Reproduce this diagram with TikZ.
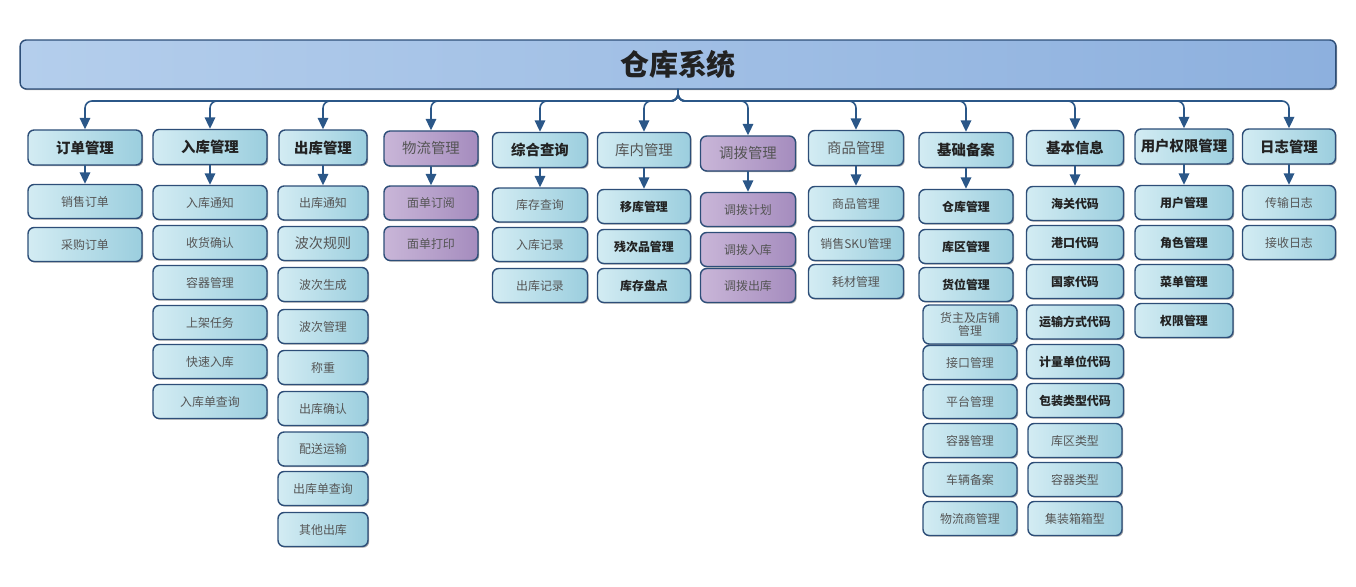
\documentclass[tikz,border=0pt]{standalone}
\usepackage{fontspec}
\setmainfont{Noto Sans CJK SC}
\usetikzlibrary{arrows.meta,shadows}
\definecolor{edge}{HTML}{2D4E78}
\definecolor{wire}{HTML}{2B5788}
\definecolor{kidL}{HTML}{D3ECF3}
\definecolor{kidR}{HTML}{9BCEDE}
\definecolor{purL}{HTML}{C9B6D8}
\definecolor{purR}{HTML}{A58CBE}
\definecolor{rootL}{HTML}{B4CEEC}
\definecolor{rootR}{HTML}{8DB0DE}
\definecolor{ink}{HTML}{222222}
\definecolor{soft}{HTML}{555555}
\begin{document}
\begin{tikzpicture}[x=0.02cm, y=-0.02cm, line join=round, line cap=round,
	box/.style={draw=edge, line width=0.8pt, rounded corners=3.5pt, minimum height=6.8mm, inner sep=1pt, align=center,
		left color=kidL, right color=kidR,
		drop shadow={shadow xshift=0.7pt, shadow yshift=-0.7pt, fill=black, opacity=0.35}},
	kid/.style={box, text=soft, font=\fontsize{6.8}{7.6}\selectfont},
	kidb/.style={box, text=ink, font=\fontsize{6.8}{8}\selectfont\bfseries},
	kidl/.style={box, text=soft, font=\fontsize{8}{9}\selectfont},
	kidt/.style={kid, minimum height=7.8mm},
	pkid/.style={kid, left color=purL, right color=purR},
	top/.style={box, minimum height=7mm, text=soft, font=\fontsize{8.2}{9}\selectfont},
	topb/.style={box, minimum height=7mm, text=ink, font=\fontsize{8.2}{9}\selectfont\bfseries},
	ptop/.style={top, left color=purL, right color=purR},
	arr/.style={draw=wire, line width=0.9pt, -{Triangle[width=6pt,length=6.5pt]}}]
	\useasboundingbox (0,0) rectangle (1356,587);
	\node[box, left color=rootL, right color=rootR, minimum width=1316*0.2mm, minimum height=49*0.2mm, text=ink,
		font=\fontsize{16.5}{18}\selectfont\bfseries] (root) at (678,64.5) {仓库系统};
	\coordinate (bus) at (678,101);
	\foreach \n/\x/\y/\w/\t/\s in {t1/85/147.5/114/订单管理/topb, t2/210/147/114/入库管理/topb, t3/323/147.5/88/出库管理/topb,
		t4/431/148.5/94/物流管理/ptop, t5/540/150/95/综合查询/topb, t6/644/150/93/库内管理/top, t7/748/153.5/95/调拨管理/ptop,
		t8/856/148/95/商品管理/top, t9/966/150/94/基础备案/topb, t10/1075/148/97/基本信息/topb,
		t11/1184/146.5/98/用户权限管理/topb, t12/1289/146.5/93/日志管理/topb}
		\node[\s, minimum width=\w*0.2mm] (\n) at (\x,\y) {\t};
	\foreach \n/\x/\y/\w/\t/\s in {k1-1/85/201.5/114/销售订单/kid, k1-2/85/244.5/114/采购订单/kid,
		k2-1/210/202.5/114/入库通知/kid, k2-2/210/242.5/114/收货确认/kid, k2-3/210/282.5/114/容器管理/kid,
		k2-4/210/322.5/114/上架任务/kid, k2-5/210/361.5/114/快速入库/kid, k2-6/210/401.5/114/入库单查询/kid,
		k3-1/323/203/90/出库通知/kid, k3-2/323/243.5/90/波次规则/kidl, k3-3/323/284.5/90/波次生成/kid,
		k3-4/323/326.5/90/波次管理/kid, k3-5/323/367.5/90/称重/kid, k3-6/323/408.5/90/出库确认/kid,
		k3-7/323/449/90/配送运输/kid, k3-8/323/488.5/90/出库单查询/kid, k3-9/323/529.5/90/其他出库/kid,
		k4-1/431/203/94/面单订阅/pkid, k4-2/431/243.5/94/面单打印/pkid,
		k5-1/540/205/95/库存查询/kid, k5-2/540/244.5/95/入库记录/kid, k5-3/540/285.5/95/出库记录/kid,
		k6-1/644/206.5/93/移库管理/kidb, k6-2/644/246.5/93/残次品管理/kidb, k6-3/644/285.5/93/库存盘点/kidb,
		k7-1/748/209.5/95/调拨计划/pkid, k7-2/748/249.5/95/调拨入库/pkid, k7-3/748/285.5/95/调拨出库/pkid,
		k8-1/856/203.5/95/商品管理/kid, k8-2/856/243.5/95/销售SKU管理/kid, k8-3/856/281.5/95/耗材管理/kid,
		k9-1/966/206.5/94/仓库管理/kidb, k9-2/966/246.5/94/库区管理/kidb, k9-3/966/284.5/94/货位管理/kidb,
		k9-4/970/324.5/94/货主及店铺\\管理/kidt, k9-5/970/362.5/94/接口管理/kid, k9-6/970/401.5/94/平台管理/kid,
		k9-7/970/440.5/94/容器管理/kid, k9-8/970/479.5/94/车辆备案/kid, k9-9/970/518.5/94/物流商管理/kid,
		k10-1/1075/203.5/97/海关代码/kidb, k10-2/1075/242.5/97/港口代码/kidb, k10-3/1075/281.5/97/国家代码/kidb,
		k10-4/1075/322/97/运输方式代码/kidb, k10-5/1075/361.5/97/计量单位代码/kidb, k10-6/1075/400.5/97/包装类型代码/kidb,
		k10-7/1075/440.5/94/库区类型/kid, k10-8/1075/479.5/94/容器类型/kid, k10-9/1075/518.5/94/集装箱箱型/kid,
		k11-1/1184/202.5/98/用户管理/kidb, k11-2/1184/242.5/98/角色管理/kidb, k11-3/1184/281.5/98/菜单管理/kidb,
		k11-4/1184/320.5/98/权限管理/kidb,
		k12-1/1289/202.5/93/传输日志/kid, k12-2/1289/242.5/93/接收日志/kid}
		\node[\s, minimum width=\w*0.2mm] (\n) at (\x,\y) {\t};
	\foreach \i in {1,...,12}{
		\draw[arr, rounded corners=4pt] (root.south) -- (bus) -| (t\i.north);
		\draw[arr] (t\i.south) -- (t\i.south |- k\i-1.north);
	}
\end{tikzpicture}
\end{document}
